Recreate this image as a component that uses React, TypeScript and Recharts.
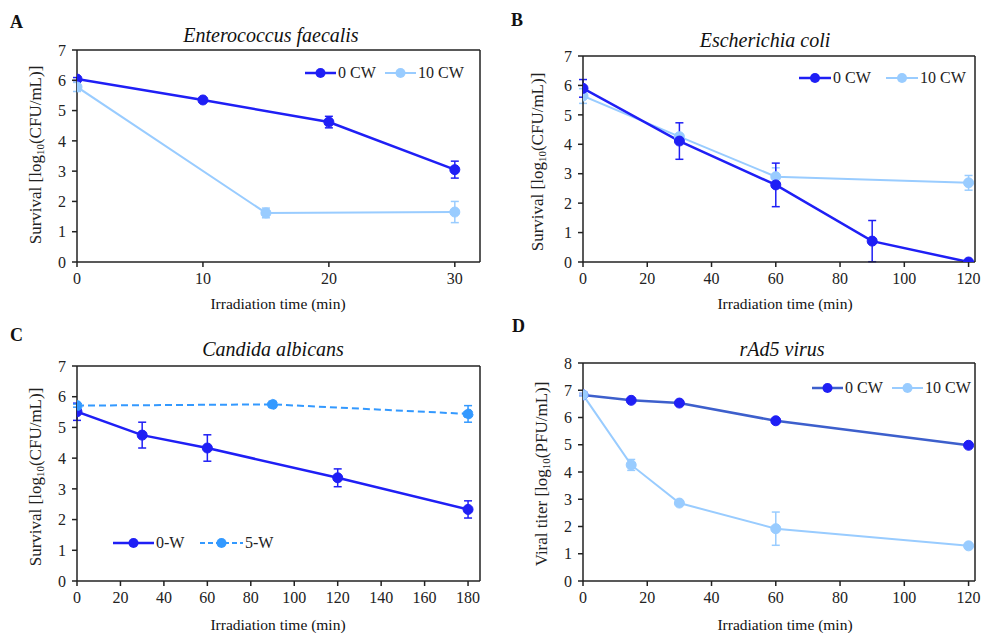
import React from "react";
import { LineChart, Line, XAxis, YAxis, ErrorBar, ReferenceLine } from "recharts";

const FONT = "'Liberation Serif', 'Times New Roman', serif";
const DARK = "#1f1ff5";
const LIGHT = "#99ccff";
const MID = "#3399ff";
const STEEL = "#3d5fcc";

// Panel A - Enterococcus faecalis
const aTime0 = [0, 10, 20, 30];
const aVal0 = [6.04, 5.35, 4.62, 3.05];
const aErr0 = [0.05, 0.05, 0.19, 0.28];
const aTime10 = [0, 15, 30];
const aVal10 = [5.78, 1.62, 1.65];
const aErr10 = [0.15, 0.16, 0.35];
const aXTicks = [0, 10, 20, 30];

// Panel B - Escherichia coli
const bTime0 = [0, 30, 60, 90, 120];
const bVal0 = [5.9, 4.11, 2.62, 0.71, 0];
const bErr0 = [0.3, 0.62, 0.74, 0.7, 0];
const bTime10 = [0, 30, 60, 120];
const bVal10 = [5.64, 4.26, 2.9, 2.69];
const bErr10 = [0.25, 0.05, 0.3, 0.25];
const bXTicks = [0, 20, 40, 60, 80, 100, 120];

// Panel C - Candida albicans
const cTime0 = [0, 30, 60, 120, 180];
const cVal0 = [5.51, 4.75, 4.33, 3.36, 2.33];
const cErr0 = [0.28, 0.42, 0.43, 0.29, 0.28];
const cTime5 = [0, 90, 180];
const cVal5 = [5.71, 5.75, 5.44];
const cErr5 = [0.05, 0.1, 0.27];
const cXTicks = [0, 20, 40, 60, 80, 100, 120, 140, 160, 180];

// Panel D - rAd5 virus
const dTime0 = [0, 15, 30, 60, 120];
const dVal0 = [6.83, 6.63, 6.53, 5.88, 4.98];
const dErr0 = [0.05, 0.05, 0.08, 0.05, 0.05];
const dTime10 = [0, 15, 30, 60, 120];
const dVal10 = [6.83, 4.26, 2.86, 1.92, 1.29];
const dErr10 = [0.05, 0.2, 0.05, 0.61, 0.05];
const dXTicks = [0, 20, 40, 60, 80, 100, 120];

const yTicks7 = [0, 1, 2, 3, 4, 5, 6, 7];
const yTicks8 = [0, 1, 2, 3, 4, 5, 6, 7, 8];

const rows = (t: number[], v: number[], e: number[]) =>
  t.map((x, i) => ({ x, y: v[i], err: e[i] }));

type Series = {
  data: { x: number; y: number; err: number }[];
  color: string;
  dotColor: string;
  width: number;
  dashed?: boolean;
  name: string;
};

type PanelProps = {
  left: number;
  top: number;
  width: number;
  height: number;
  margin: { top: number; right: number; bottom: number; left: number };
  xDomain: [number, number];
  xTicks: number[];
  yDomain: [number, number];
  yTicks: number[];
  series: Series[];
};

const tickStyle = { fontFamily: FONT, fontSize: 16, fill: "#222" };

function Panel(p: PanelProps) {
  return (
    <div style={{ position: "absolute", left: p.left, top: p.top }}>
      <LineChart width={p.width} height={p.height} margin={p.margin}>
        <XAxis
          type="number"
          dataKey="x"
          domain={p.xDomain}
          ticks={p.xTicks}
          allowDataOverflow
          height={30}
          tick={tickStyle}
          tickSize={5}
          tickMargin={6}
          stroke="#222"
          strokeWidth={1.5}
        />
        <YAxis
          type="number"
          dataKey="y"
          domain={p.yDomain}
          ticks={p.yTicks}
          allowDataOverflow
          width={40}
          tick={tickStyle}
          tickSize={5}
          tickMargin={6}
          stroke="#222"
          strokeWidth={1.5}
        />
        <ReferenceLine y={p.yDomain[1]} stroke="#222" strokeWidth={1.5} />
        <ReferenceLine x={p.xDomain[1]} stroke="#222" strokeWidth={1.5} />
        {p.series.map((s) => (
          <Line
            key={s.name}
            data={s.data}
            dataKey="y"
            name={s.name}
            type="linear"
            stroke={s.color}
            strokeWidth={s.width}
            strokeDasharray={s.dashed ? "7 4" : undefined}
            dot={{ r: 5, fill: s.dotColor, stroke: s.dotColor, strokeWidth: 1 }}
            isAnimationActive={false}
          >
            <ErrorBar dataKey="err" width={4} stroke={s.dotColor} strokeWidth={1.5} direction="y" />
          </Line>
        ))}
      </LineChart>
    </div>
  );
}

function LegendItem({ x1, x2, y, color, dotColor, dashed, label, width }: any) {
  return (
    <g>
      <line x1={x1} x2={x2} y1={y} y2={y} stroke={color} strokeWidth={width} strokeDasharray={dashed ? "5 3" : undefined} />
      <circle cx={(x1 + x2) / 2} cy={y} r={5} fill={dotColor} />
      <text x={x2 + 2} y={y + 5} fontFamily={FONT} fontSize={16} fill="#222">{label}</text>
    </g>
  );
}

function YLabel({ cx, cy, unit, pre }: { cx: number; cy: number; unit: string; pre: string }) {
  return (
    <text
      x={cx}
      y={cy}
      transform={`rotate(-90 ${cx} ${cy})`}
      textAnchor="middle"
      dominantBaseline="middle"
      fontFamily={FONT}
      fontSize={17}
      fill="#222"
    >
      {pre} [log
      <tspan fontSize={11} dy={4}>10</tspan>
      <tspan dy={-4}>({unit})]</tspan>
    </text>
  );
}

function Overlay() {
  const t = { fontFamily: FONT, fill: "#111" };
  return (
    <svg width={984} height={633} style={{ position: "absolute", left: 0, top: 0, pointerEvents: "none" }}>
      <text x={10} y={28} fontSize={18} fontWeight="bold" {...t}>A</text>
      <text x={511} y={26} fontSize={18} fontWeight="bold" {...t}>B</text>
      <text x={10} y={341} fontSize={18} fontWeight="bold" {...t}>C</text>
      <text x={512} y={332} fontSize={18} fontWeight="bold" {...t}>D</text>

      <text x={271} y={42} fontSize={20} fontStyle="italic" textAnchor="middle" {...t}>Enterococcus faecalis</text>
      <text x={765} y={47} fontSize={20} fontStyle="italic" textAnchor="middle" {...t}>Escherichia coli</text>
      <text x={273} y={356} fontSize={20} fontStyle="italic" textAnchor="middle" {...t}>Candida albicans</text>
      <text x={782} y={356} fontSize={20} fontStyle="italic" textAnchor="middle" {...t}>rAd5 virus</text>

      <text x={278} y={309} fontSize={15.5} textAnchor="middle" {...t}>Irradiation time (min)</text>
      <text x={785} y={309} fontSize={15.5} textAnchor="middle" {...t}>Irradiation time (min)</text>
      <text x={278} y={630} fontSize={15.5} textAnchor="middle" {...t}>Irradiation time (min)</text>
      <text x={785} y={630} fontSize={15.5} textAnchor="middle" {...t}>Irradiation time (min)</text>

      <YLabel cx={37} cy={155} pre="Survival" unit="CFU/mL" />
      <YLabel cx={539} cy={162} pre="Survival" unit="CFU/mL" />
      <YLabel cx={37} cy={477} pre="Survival" unit="CFU/mL" />
      <YLabel cx={543} cy={474} pre="Viral titer" unit="PFU/mL" />

      <LegendItem x1={305} x2={336} y={73} color={DARK} dotColor={DARK} width={2.5} label="0 CW" />
      <LegendItem x1={385} x2={416} y={73} color={LIGHT} dotColor={LIGHT} width={2} label="10 CW" />

      <LegendItem x1={799} x2={831} y={78} color={DARK} dotColor={DARK} width={2.5} label="0 CW" />
      <LegendItem x1={886} x2={918} y={78} color={LIGHT} dotColor={LIGHT} width={2} label="10 CW" />

      <LegendItem x1={113} x2={154} y={543} color={DARK} dotColor={DARK} width={2.5} label="0-W" />
      <LegendItem x1={200} x2={243} y={543} color={MID} dotColor={MID} width={2} dashed label="5-W" />

      <LegendItem x1={812} x2={843} y={388} color={STEEL} dotColor={DARK} width={2.5} label="0 CW" />
      <LegendItem x1={892} x2={923} y={388} color={LIGHT} dotColor={LIGHT} width={2} label="10 CW" />
    </svg>
  );
}

export default function App() {
  return (
    <div style={{ position: "absolute", left: 0, top: 0, width: 984, height: 633, background: "#fff" }}>
      <Panel
        left={0}
        top={0}
        width={490}
        height={310}
        margin={{ top: 50, right: 10, bottom: 18, left: 37 }}
        xDomain={[0, 32]}
        xTicks={aXTicks}
        yDomain={[0, 7]}
        yTicks={yTicks7}
        series={[
          { name: "0 CW", data: rows(aTime0, aVal0, aErr0), color: DARK, dotColor: DARK, width: 2.5 },
          { name: "10 CW", data: rows(aTime10, aVal10, aErr10), color: LIGHT, dotColor: LIGHT, width: 2 },
        ]}
      />
      <Panel
        left={490}
        top={0}
        width={494}
        height={310}
        margin={{ top: 56, right: 9, bottom: 18, left: 53 }}
        xDomain={[0, 122]}
        xTicks={bXTicks}
        yDomain={[0, 7]}
        yTicks={yTicks7}
        series={[
          { name: "10 CW", data: rows(bTime10, bVal10, bErr10), color: LIGHT, dotColor: LIGHT, width: 2 },
          { name: "0 CW", data: rows(bTime0, bVal0, bErr0), color: DARK, dotColor: DARK, width: 2.5 },
        ]}
      />
      <Panel
        left={0}
        top={310}
        width={490}
        height={323}
        margin={{ top: 56, right: 10, bottom: 22, left: 37 }}
        xDomain={[0, 185.5]}
        xTicks={cXTicks}
        yDomain={[0, 7]}
        yTicks={yTicks7}
        series={[
          { name: "0-W", data: rows(cTime0, cVal0, cErr0), color: DARK, dotColor: DARK, width: 2.5 },
          { name: "5-W", data: rows(cTime5, cVal5, cErr5), color: MID, dotColor: MID, width: 2, dashed: true },
        ]}
      />
      <Panel
        left={490}
        top={310}
        width={494}
        height={323}
        margin={{ top: 53, right: 9, bottom: 22, left: 53 }}
        xDomain={[0, 122]}
        xTicks={dXTicks}
        yDomain={[0, 8]}
        yTicks={yTicks8}
        series={[
          { name: "0 CW", data: rows(dTime0, dVal0, dErr0), color: STEEL, dotColor: DARK, width: 2.5 },
          { name: "10 CW", data: rows(dTime10, dVal10, dErr10), color: LIGHT, dotColor: LIGHT, width: 2 },
        ]}
      />
      <Overlay />
    </div>
  );
}
